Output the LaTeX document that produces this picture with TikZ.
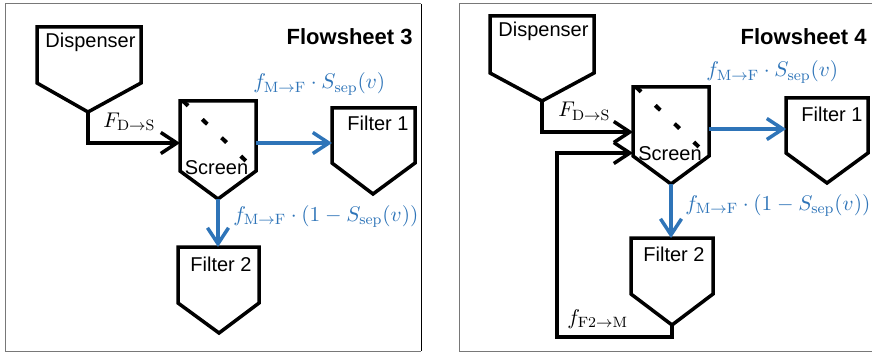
\documentclass[tikz,border=0pt]{standalone}
\usepackage{fontspec}
\newfontfamily\arialf{Liberation Sans}
\usetikzlibrary{arrows.meta}
\definecolor{flowblue}{RGB}{46,116,184}
\definecolor{framegray}{RGB}{120,120,120}
\begin{document}
\begin{tikzpicture}[x=0.5pt,y=-0.5pt,
  unitbox/.style={draw=black,line width=1.75pt,line join=miter},
  unitlabel/.style={font=\arialf\fontsize{10}{12}\selectfont,anchor=base,inner sep=0pt},
  sheetlabel/.style={font=\arialf\bfseries\fontsize{11}{13}\selectfont,anchor=base east,inner sep=0pt},
  mathlabel/.style={font=\fontsize{11}{13}\selectfont,anchor=base west,inner sep=0pt,scale=0.97,transform shape},
  feed/.style={draw=black,line width=1.75pt,-{Straight Barb[length=8pt,width=10.5pt]}},
  split/.style={draw=flowblue,line width=1.75pt,-{Straight Barb[length=8pt,width=10.5pt]}},
  mesh/.style={draw=black,line width=2pt,dash pattern=on 3.5pt off 9.8pt,dash phase=0pt},
  frame/.style={draw=framegray,line width=0.5pt}
]
\useasboundingbox (0,0) rectangle (872,353);
% frames
\draw[frame] (421,351) -- (5,351) -- (5,4) -- (421,4);
\draw[draw=black,line width=0.5pt] (421,4) -- (421,351);
\draw[frame] (880,4) -- (459,4) -- (459,351) -- (880,351);

% ===== Flowsheet 3 =====
\node[sheetlabel] (fs3) at (413,45) {Flowsheet 3};
% Dispenser
\draw[unitbox] (37,27) -- (141,27) -- (141,83) -- (88,112) -- (37,83) -- cycle;
\coordinate (d3tip) at (88,112);
\node[unitlabel] (d3lab) at (90.5,48) {Dispenser};
% Screen
\draw[unitbox] (180,101) -- (256,101) -- (256,171) -- (218,199) -- (180,171) -- cycle;
\coordinate (s3in) at (180,143);
\coordinate (s3out) at (256,143);
\coordinate (s3tip) at (218,199);
\draw[mesh] (183,101) -- (247,162);
\node[unitlabel] (s3lab) at (216.5,174) {Screen};
% Filter 1
\draw[unitbox] (332,108) -- (415,108) -- (415,163) -- (373,194) -- (332,163) -- cycle;
\coordinate (f13in) at (332,143);
\node[unitlabel] (f13lab) at (378,130) {Filter 1};
% Filter 2
\draw[unitbox] (178,247) -- (259,247) -- (259,303) -- (219,333) -- (178,303) -- cycle;
\coordinate (f23in) at (218,247);
\node[unitlabel] (f23lab) at (221,271) {Filter 2};
% connectors
\draw[feed] (d3tip) |- (s3in);
\node[mathlabel] (l3a) at (103,127) {$F_{\mathrm{D}\to\mathrm{S}}$};
\draw[split] (s3out) -- (f13in);
\node[mathlabel,text=flowblue] (l3b) at (253,89) {$f_{\mathrm{M}\to\mathrm{F}}\cdot S_{\mathrm{sep}}(v)$};
\draw[split] (s3tip) -- (f23in);
\node[mathlabel,text=flowblue] (l3c) at (233,221) {$f_{\mathrm{M}\to\mathrm{F}}\cdot(1-S_{\mathrm{sep}}(v))$};

% ===== Flowsheet 4 =====
\node[sheetlabel] (fs4) at (867,45) {Flowsheet 4};
% Dispenser
\draw[unitbox] (490,16) -- (594,16) -- (594,73) -- (542,101) -- (490,73) -- cycle;
\coordinate (d4tip) at (542,101);
\node[unitlabel] (d4lab) at (543.5,37) {Dispenser};
% Screen
\draw[unitbox] (633,87) -- (709,87) -- (709,156) -- (671,184) -- (633,156) -- cycle;
\coordinate (s4in) at (633,132);
\coordinate (s4rec) at (633,153);
\coordinate (s4out) at (709,129);
\coordinate (s4tip) at (671,184);
\draw[mesh] (636,87) -- (700,148);
\node[unitlabel] (s4lab) at (670,160) {Screen};
% Filter 1
\draw[unitbox] (786,98) -- (868,98) -- (868,153) -- (827,183) -- (786,153) -- cycle;
\coordinate (f14in) at (786,129);
\node[unitlabel] (f14lab) at (832,121) {Filter 1};
% Filter 2
\draw[unitbox] (631,238) -- (713,238) -- (713,294) -- (672,325) -- (631,294) -- cycle;
\coordinate (f24in) at (671,238);
\coordinate (f24tip) at (672,325);
\node[unitlabel] (f24lab) at (674,261) {Filter 2};
% connectors
\draw[feed] (d4tip) |- (s4in);
\node[mathlabel] (l4a) at (558,117) {$F_{\mathrm{D}\to\mathrm{S}}$};
\draw[split] (s4out) -- (f14in);
\node[mathlabel,text=flowblue] (l4b) at (706,77) {$f_{\mathrm{M}\to\mathrm{F}}\cdot S_{\mathrm{sep}}(v)$};
\draw[split] (s4tip) -- (f24in);
\node[mathlabel,text=flowblue] (l4c) at (685,210) {$f_{\mathrm{M}\to\mathrm{F}}\cdot(1-S_{\mathrm{sep}}(v))$};
\coordinate (r4a) at (672,337);
\coordinate (r4b) at (557,337);
\draw[feed] (f24tip) -- (r4a) -- (r4b) |- (s4rec);
\node[mathlabel] (l4d) at (567,324) {$f_{\mathrm{F2}\to\mathrm{M}}$};
\end{tikzpicture}
\end{document}
